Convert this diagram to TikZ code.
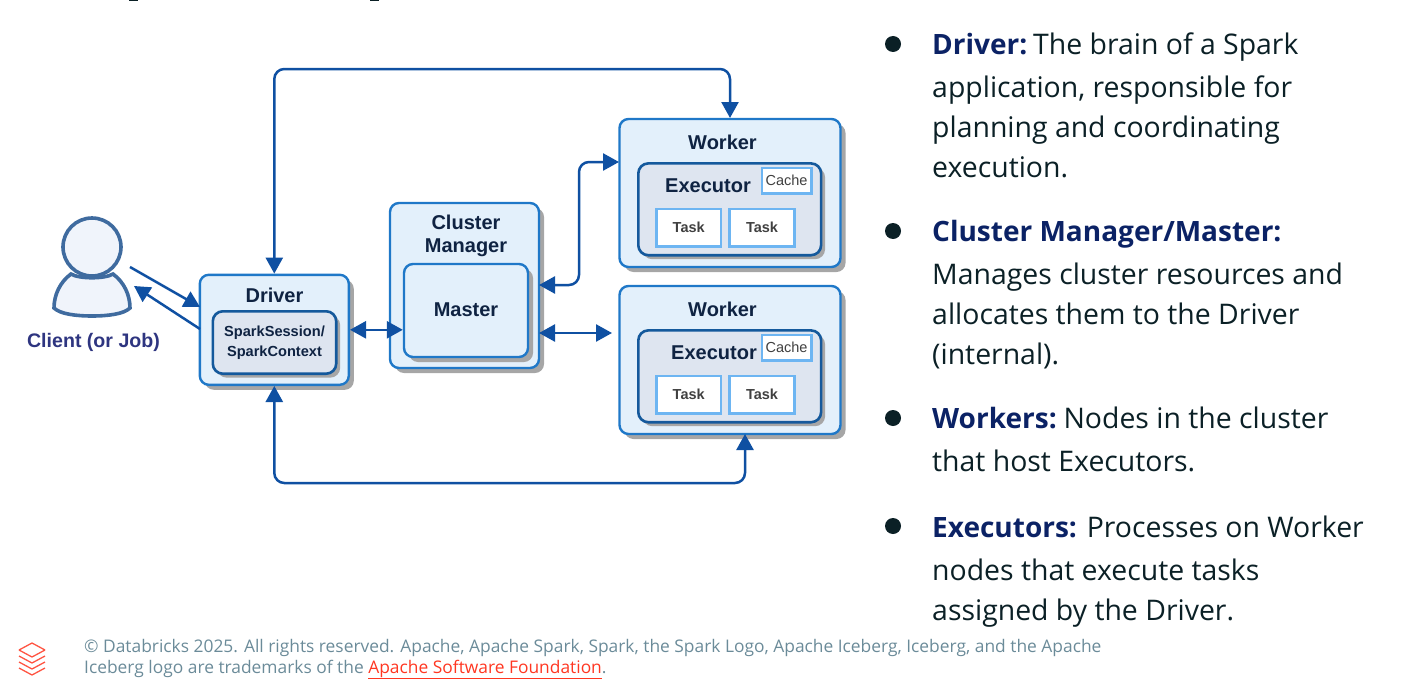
\documentclass[tikz,border=0pt]{standalone}
\usepackage{fontspec}
\setmainfont{Liberation Sans}
\newfontfamily\slidefont{Open Sans}
\usetikzlibrary{arrows.meta,shadows}
\definecolor{boxline}{HTML}{1F78C8}
\definecolor{boxfill}{HTML}{E3F0FB}
\definecolor{execline}{HTML}{14599C}
\definecolor{execfill}{HTML}{DEE5F0}
\definecolor{taskline}{HTML}{6DB5F2}
\definecolor{arrowblue}{HTML}{0F50A2}
\definecolor{inktext}{HTML}{0F2342}
\definecolor{clienttext}{HTML}{2E3580}
\definecolor{personline}{HTML}{3F6B9F}
\definecolor{personfill}{HTML}{F0F4FB}
\definecolor{slidetext}{HTML}{0B2026}
\definecolor{headtext}{HTML}{0B2265}
\definecolor{foottext}{HTML}{6B8B99}
\definecolor{linkred}{HTML}{FF3621}
\tikzset{
  shade box/.style={drop shadow={shadow xshift=5pt,shadow yshift=-5pt,fill=black!35,opacity=1}},
  bigbox/.style={draw=boxline,fill=boxfill,line width=2.4pt,rounded corners=9pt,shade box},
  execbox/.style={draw=execline,fill=execfill,line width=2.6pt,rounded corners=10pt,
    drop shadow={shadow xshift=4pt,shadow yshift=-4pt,fill=black!35,opacity=1}},
  taskbox/.style={draw=taskline,fill=white,line width=2.6pt,text=black!75,font=\fontsize{14.5}{17}\selectfont\bfseries},
  title/.style={text=inktext,font=\fontsize{20}{23.5}\selectfont\bfseries,align=center},
  link/.style={draw=arrowblue,line width=2.5pt,rounded corners=10pt},
  tip both/.style={{Triangle[width=17pt,length=16pt]}-{Triangle[width=17pt,length=16pt]}},
  tip end/.style={-{Triangle[width=17pt,length=16pt]}},
  line/.style={anchor=base west,text=slidetext,inner sep=0pt,font=\fontsize{28.4}{34}\selectfont\slidefont},
  foot/.style={anchor=base west,text=foottext,inner sep=0pt,font=\fontsize{17.38}{21}\selectfont\slidefont},
  dot/.style={circle,fill=slidetext,minimum size=16pt,inner sep=0pt},
}
\newcommand{\head}[1]{\textcolor{headtext}{\fontsize{28}{34}\selectfont\bfseries #1}}
\begin{document}
\begin{tikzpicture}[x=1pt,y=-1pt]
\useasboundingbox (0,0) rectangle (1415,693);
% cut off title
\fill[slidetext] (129,0) rectangle (138,1.2);
\fill[slidetext] (370,0) rectangle (379,1.2);
% client
\draw[personline,fill=personfill,line width=3.6pt] (71,274) .. controls (60,282) and (54,295) .. (54,308) .. controls (60,314) and (76,316) .. (92,316) .. controls (108,316) and (124,314) .. (130,308) .. controls (130,295) and (124,282) .. (113,274) .. controls (105,279) and (79,279) .. (71,274) -- cycle;
\draw[personline,fill=personfill,line width=3.6pt] (92,247) circle (29);
\node[text=clienttext,font=\fontsize{19.6}{23}\selectfont\bfseries] (clientname) at (93.5,342) {Client (or Job)};
\coordinate (clientout) at (130,267);
\coordinate (clientin) at (134,286);
% boxes
\node[bigbox,minimum width=149pt,minimum height=110pt] (driver) at (274.3,329.8) {};
\node[execbox,minimum width=123.4pt,minimum height=62.4pt] (session) at (274.5,342.5) {};
\node[title] (drivername) at (274.5,295) {Driver};
\node[text=inktext,font=\fontsize{14.6}{20}\selectfont\bfseries,align=center] (sessionname) at (274.5,342.5) {SparkSession/\\SparkContext};
\node[bigbox,minimum width=149pt,minimum height=165pt] (cluster) at (464.5,285.5) {};
\node[title] (clustername) at (466,236) {Cluster\\Manager};
\node[bigbox,minimum width=124pt,minimum height=93pt] (master) at (466,310.5) {};
\node[title] (mastername) at (466,310) {Master};
\foreach \nm/\ty in {one/193,two/360}{
  \node[bigbox,minimum width=221pt,minimum height=148pt] (worker\nm) at (730,\ty) {};
  \node[title] (workername\nm) at (722.5,\ty-51) {Worker};
}
\foreach \nm/\ty/\ex in {one/209.3/708,two/376.3/714}{
  \node[execbox,minimum width=182.8pt,minimum height=91.8pt] (exec\nm) at (729.7,\ty) {};
  \node[title] (execname\nm) at (\ex,\ty-23.5) {Executor};
  \node[taskbox,minimum width=49.4pt,minimum height=25.4pt,inner sep=0pt,font=\fontsize{14.5}{17}\selectfont] (cache\nm) at (786.5,\ty-28.6) {Cache};
  \node[taskbox,minimum width=64.6pt,minimum height=37.6pt,inner sep=0pt] (taskl\nm) at (688.7,\ty+18.4) {Task};
  \node[taskbox,minimum width=64.6pt,minimum height=37.6pt,inner sep=0pt] (taskr\nm) at (762,\ty+18.4) {Task};
}
% connectors
\coordinate (driverin) at (200,307);
\coordinate (topbend) at (274.3,69);
\coordinate (botbend) at (274.3,483);
\coordinate (clusterup) at (539,285);
\coordinate (clusterdown) at (539,333);
\coordinate (workerin) at (619,162);
\coordinate (workertwoin) at (612,333);
\coordinate (driverback) at (200,329);
\coordinate (topworker) at (730,118);
\coordinate (botworker) at (745,434);
\draw[link,tip end] (clientout) -- (driverin);
\draw[link,tip end] (driverback) -- (clientin);
\draw[link,tip both] (driver.north) -- (topbend) -| (topworker);
\draw[link,tip both] (driver.south) -- (botbend) -| (botworker);
\draw[link,tip both] (driver.east) -- (master.west |- driver.east);
\draw[link,tip both] (clusterup) -| (579,162) -- (workerin);
\draw[link,tip both] (clusterdown) -- (workertwoin);
% bullet text
\node[dot] (dota) at (893,44) {};
\node[dot] (dotb) at (893,231) {};
\node[dot] (dotc) at (893,418) {};
\node[dot] (dotd) at (893,526) {};
\node[line] (la) at (932,54.5) {\head{Driver:}\hspace{-4pt} The brain of a Spark};
\node[line] (lb) at (932,97) {application, responsible for};
\node[line] (lc) at (932,137) {planning and coordinating};
\node[line] (ld) at (932,177) {execution.};
\node[line] (le) at (932,241) {\head{Cluster Manager/Master:}};
\node[line] (lf) at (932,284) {Manages cluster resources and};
\node[line] (lg) at (932,324) {allocates them to the Driver};
\node[line] (lh) at (932,364) {(internal).};
\node[line] (li) at (932,428) {\head{Workers:}\hspace{-3pt} Nodes in the cluster};
\node[line] (lj) at (932,471) {that host Executors.};
\node[line] (lk) at (932,537) {\head{Executors:}\hspace{0pt} Processes on Worker};
\node[line] (ll) at (932,580) {nodes that execute tasks};
\node[line] (lm) at (932,620) {assigned by the Driver.};
% footer
\foreach \dy in {0,6,12,18}{
  \draw[linkred!85,line width=1.3pt,line join=round] (19,650+\dy) -- (32,657+\dy) -- (45,650+\dy);
}
\draw[linkred!85,line width=1.3pt,line join=round] (19,650) -- (32,643) -- (45,650);
\node[foot] (fa) at (84,652) {© Databricks 2025. All rights reserved. Apache, Apache Spark, Spark, the Spark Logo, Apache Iceberg, Iceberg, and the Apache};
\node[foot] (fb) at (84,673) {Iceberg logo are trademarks of the \textcolor{linkred}{\underline{Apache Software Foundation}}.};
\end{tikzpicture}
\end{document}
